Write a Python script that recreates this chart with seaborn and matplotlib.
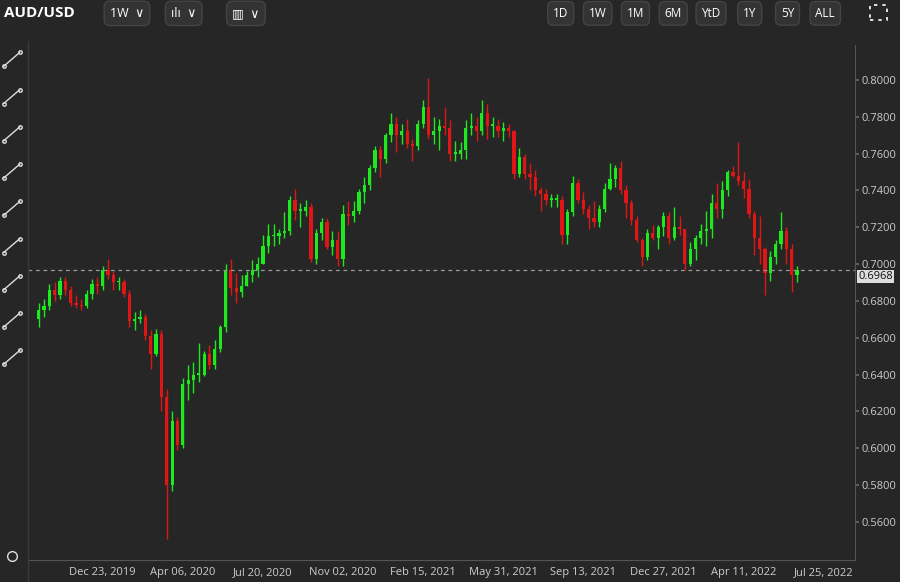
import matplotlib
matplotlib.use("Agg")
import matplotlib.pyplot as plt
import matplotlib.dates as mdates
import seaborn as sns
import pandas as pd
import numpy as np

start_date = "2019-09-30"
closes = [.675,.677,.686,.683,.691,.686,.679,.678,.677,.684,.689,.688,.697,.694,.690,.690,.684,.669,.670,.671,
          .661,.651,.662,.628,.580,.615,.602,.635,.637,.640,.640,.651,.645,.654,.666,.697,.687,.685,.688,.694,
          .697,.700,.710,.715,.715,.717,.718,.735,.729,.729,.731,.703,.717,.723,.709,.713,.703,.727,.726,.729,
          .739,.743,.752,.762,.757,.770,.776,.770,.772,.765,.764,.776,.785,.770,.772,.775,.774,.760,.760,.762,
          .774,.775,.772,.782,.775,.775,.772,.774,.772,.749,.758,.749,.747,.740,.738,.735,.735,.735,.716,.728,
          .744,.735,.730,.725,.723,.730,.741,.746,.752,.740,.733,.724,.713,.704,.717,.714,.720,.726,.714,.720,
          .719,.700,.708,.714,.718,.719,.733,.730,.740,.750,.748,.745,.741,.727,.714,.708,.695,.704,.711,.718,
          .708,.694,.697]
first_open = 0.670
highs = [.679,.681,.689,.690,.693,.693,.688,.683,.681,.686,.692,.693,.699,.703,.696,.693,.692,.686,.674,.675,
         .673,.664,.665,.664,.632,.620,.617,.638,.645,.647,.657,.653,.656,.659,.667,.700,.703,.695,.694,.696,
         .702,.704,.716,.722,.722,.719,.728,.737,.741,.733,.735,.733,.719,.725,.725,.718,.718,.732,.734,.734,
         .741,.747,.754,.764,.764,.771,.782,.780,.776,.779,.768,.778,.789,.801,.780,.779,.785,.778,.767,.766,
         .778,.782,.780,.789,.787,.780,.779,.777,.776,.773,.763,.760,.755,.751,.742,.741,.738,.738,.737,.730,
         .748,.746,.739,.732,.734,.732,.744,.755,.754,.756,.743,.735,.726,.714,.719,.721,.721,.728,.728,.731,
         .726,.719,.712,.716,.722,.729,.738,.744,.745,.751,.753,.766,.750,.746,.729,.726,.709,.707,.713,.728,
         .720,.711,.699]
lows = [.666,.671,.675,.680,.681,.683,.677,.676,.675,.676,.681,.684,.686,.692,.686,.686,.682,.666,.664,.668,
        .659,.643,.650,.620,.551,.577,.599,.600,.626,.630,.636,.639,.643,.643,.652,.663,.683,.679,.682,.688,
        .690,.693,.700,.706,.710,.711,.714,.716,.724,.720,.726,.701,.700,.713,.708,.705,.699,.699,.721,.723,
        .727,.733,.740,.750,.747,.755,.766,.761,.765,.763,.756,.762,.774,.768,.765,.762,.770,.756,.756,.757,
        .757,.770,.767,.770,.768,.769,.769,.767,.769,.746,.747,.746,.740,.737,.729,.732,.731,.731,.711,.711,
        .726,.733,.727,.719,.720,.720,.728,.740,.742,.738,.725,.721,.712,.699,.702,.713,.708,.715,.711,.713,
        .716,.697,.699,.702,.711,.710,.714,.725,.725,.737,.747,.743,.736,.725,.705,.700,.683,.691,.700,.708,
        .700,.685,.690]
current_price = 0.6968
y_ticks = [0.56,0.58,0.60,0.62,0.64,0.66,0.68,0.70,0.72,0.74,0.76,0.78,0.80]
x_tick_labels = ["Dec 23, 2019","Apr 06, 2020","Jul 20, 2020","Nov 02, 2020","Feb 15, 2021",
                 "May 31, 2021","Sep 13, 2021","Dec 27, 2021","Apr 11, 2022","Jul 25, 2022"]

dates = pd.date_range(start_date, periods=len(closes), freq="7D")
opens = [first_open] + closes[:-1]
df = pd.DataFrame({"date": dates, "open": opens, "close": closes, "high": highs, "low": lows})
df["up"] = df["close"] >= df["open"]

BG = "#262626"
sns.set_theme(style="dark", rc={"axes.facecolor": BG, "figure.facecolor": BG})
plt.rcParams['font.family'] = ['Open Sans', 'DejaVu Sans']

fig = plt.figure(figsize=(9, 5.82), dpi=100)
ax = fig.add_axes([0.031, 0.038, 0.919, 0.885])
GREEN, RED = "#1ee81e", "#e01515"
cols = np.where(df["up"], GREEN, RED)
x = mdates.date2num(df["date"])
ax.vlines(x, df["low"], df["high"], colors=cols, linewidth=1)
bottoms = np.minimum(df["open"], df["close"])
heights = np.maximum(np.abs(df["close"] - df["open"]), 0.0008)
ax.bar(x, heights, bottom=bottoms, width=4.2, color=cols, linewidth=0)

ax.set_ylim(0.5394, 0.819)
ax.set_xlim(mdates.date2num(pd.Timestamp("2019-09-16")), mdates.date2num(pd.Timestamp("2022-09-04")))
ax.yaxis.tick_right()
ax.set_yticks(y_ticks)
ax.set_yticklabels([f"{v:.4f}" for v in y_ticks], color="#cccccc", fontsize=8)
xt = [mdates.date2num(pd.Timestamp(s.replace(",", ""))) for s in x_tick_labels]
ax.set_xticks(xt)
ax.set_xticklabels(x_tick_labels, color="#cccccc", fontsize=8)
ax.tick_params(axis="both", length=3, color="#666666", pad=2)
ax.grid(False)
for s in ["top", "left"]:
    ax.spines[s].set_visible(False)
for s in ["right", "bottom"]:
    ax.spines[s].set_color("#555555")
    ax.spines[s].set_linewidth(0.8)
ax.axhline(current_price, color="#999999", linestyle=(0, (3, 3)), linewidth=0.9)
ax.text(1.004, current_price - 0.0005, f"{current_price:.4f}", transform=ax.get_yaxis_transform(),
        va="top", ha="left", fontsize=8, color="#111111",
        bbox=dict(boxstyle="square,pad=0.12", fc="#dddddd", ec="none"))

# toolbar
fig.text(0.004, 0.977, "AUD/USD", color="white", fontsize=11, fontweight="bold", va="center")
btn = dict(boxstyle="round,pad=0.45", fc="#333333", ec="#444444")
for xx, t in [(0.122, "1W  ∨"), (0.19, "ılı  ∨"), (0.258, "▥  ∨")]:
    fig.text(xx, 0.977, t, color="white", fontsize=9, va="center", bbox=btn)
for xx, t in [(0.623, "1D"), (0.664, "1W"), (0.706, "1M"), (0.748, "6M"), (0.79, "YtD"),
              (0.833, "1Y"), (0.875, "5Y"), (0.917, "ALL")]:
    fig.text(xx, 0.977, t, color="white", fontsize=8.5, va="center", ha="center", bbox=btn)
# fullscreen icon as shape
fig.add_artist(plt.Rectangle((0.967, 0.965), 0.018, 0.026, fill=False, ec="white", lw=1.2,
                             ls=(0, (2, 3))))
# left sidebar drawing-tool icons as shapes
for i in range(9):
    yy = 0.898 - i * 0.064
    fig.add_artist(plt.Line2D([0.004, 0.022], [yy - 0.012, yy + 0.012], color="#dddddd", lw=1))
    fig.add_artist(plt.Line2D([0.004, 0.022], [yy - 0.012, yy + 0.012], color="#dddddd", lw=0,
                              marker="o", ms=2.5, mfc="none"))
fig.add_artist(plt.Line2D([0.013], [0.045], color="#dddddd", marker="o", ms=7, mfc="none", lw=0))
fig.add_artist(plt.Line2D([0.031, 0.031], [0.0, 0.93], color="#3a3a3a", lw=1))
fig.savefig("out.png", dpi=100, facecolor=BG)
